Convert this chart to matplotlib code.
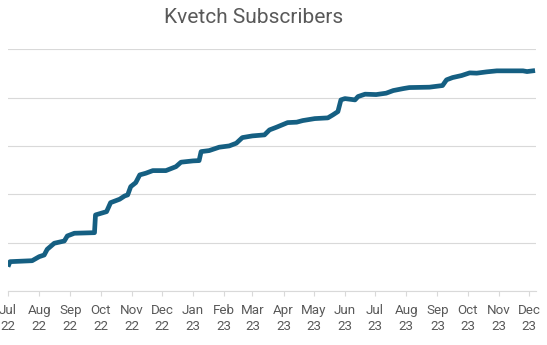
import numpy as np
import pandas as pd
import matplotlib
matplotlib.use('Agg')
import matplotlib.pyplot as plt

# subscriber counts over time (read at the points where the curve bends)
dates = ['2022-07-01', '2022-07-03', '2022-07-25', '2022-08-01', '2022-08-06',
         '2022-08-09', '2022-08-16', '2022-08-26', '2022-08-29', '2022-09-05',
         '2022-09-25', '2022-09-26', '2022-10-07', '2022-10-11', '2022-10-20',
         '2022-10-25', '2022-10-28', '2022-10-31', '2022-11-05', '2022-11-09',
         '2022-11-15', '2022-11-22', '2022-12-05', '2022-12-15', '2022-12-20',
         '2023-01-01', '2023-01-07', '2023-01-09', '2023-01-17', '2023-01-27',
         '2023-02-06', '2023-02-13', '2023-02-19', '2023-03-01', '2023-03-13',
         '2023-03-18', '2023-03-25', '2023-04-05', '2023-04-14', '2023-04-20',
         '2023-05-02', '2023-05-15', '2023-05-20', '2023-05-25', '2023-05-28',
         '2023-06-01', '2023-06-11', '2023-06-14', '2023-06-21', '2023-07-02',
         '2023-07-12', '2023-07-19', '2023-07-29', '2023-08-04', '2023-08-24',
         '2023-09-06', '2023-09-10', '2023-09-16', '2023-09-25', '2023-10-03',
         '2023-10-10', '2023-10-20', '2023-10-30', '2023-11-12', '2023-11-25',
         '2023-11-29', '2023-12-07']
subscribers = [503, 607, 627, 710, 745,
               863, 988, 1035, 1139, 1195,
               1207, 1574, 1642, 1828, 1899,
               1967, 1988, 2159, 2242, 2402,
               2437, 2491, 2491, 2573, 2665,
               2692, 2698, 2884, 2905, 2975,
               3002, 3058, 3174, 3209, 3230,
               3333, 3389, 3484, 3493, 3526,
               3567, 3582, 3644, 3712, 3954,
               3981, 3954, 4023, 4072, 4064,
               4093, 4147, 4188, 4209, 4217,
               4251, 4369, 4416, 4458, 4513,
               4507, 4534, 4555, 4555, 4555,
               4540, 4561]

months = pd.date_range('2022-07-01', '2023-12-01', freq='MS')
month_labels = [d.strftime('%b') + '\n' + d.strftime('%y') for d in months]

x = pd.to_datetime(dates)

fig = plt.figure(figsize=(5.47, 3.45), dpi=100)
ax = fig.add_axes([0.0146, 0.1565, 0.9654, 0.7005])

ax.plot(x, subscribers, color='#155f82', lw=3.4, solid_capstyle='butt')

ax.set_xlim(pd.Timestamp('2022-07-01'), pd.Timestamp('2023-12-08'))
ax.set_ylim(0, 5000)
ax.set_yticks(np.arange(0, 5001, 1000))
ax.set_yticklabels([])
ax.tick_params(axis='y', length=0)
ax.grid(True, axis='y', color='#d9d9d9', lw=0.8)
ax.set_axisbelow(True)

ax.set_xticks(months)
ax.set_xticklabels(month_labels, fontsize=9.6, color='#595959', family='Roboto',
                   linespacing=1.25)
ax.tick_params(axis='x', length=3.5, width=0.8, color='#d9d9d9', pad=6)

for side in ['top', 'right', 'left']:
    ax.spines[side].set_visible(False)
ax.spines['bottom'].set_color('#d9d9d9')
ax.spines['bottom'].set_linewidth(0.8)

fig.text(0.4635, 0.934, 'Kvetch Subscribers', ha='center', va='baseline',
         fontsize=15, color='#595959', family='Roboto')

fig.savefig('out.png', dpi=100)
